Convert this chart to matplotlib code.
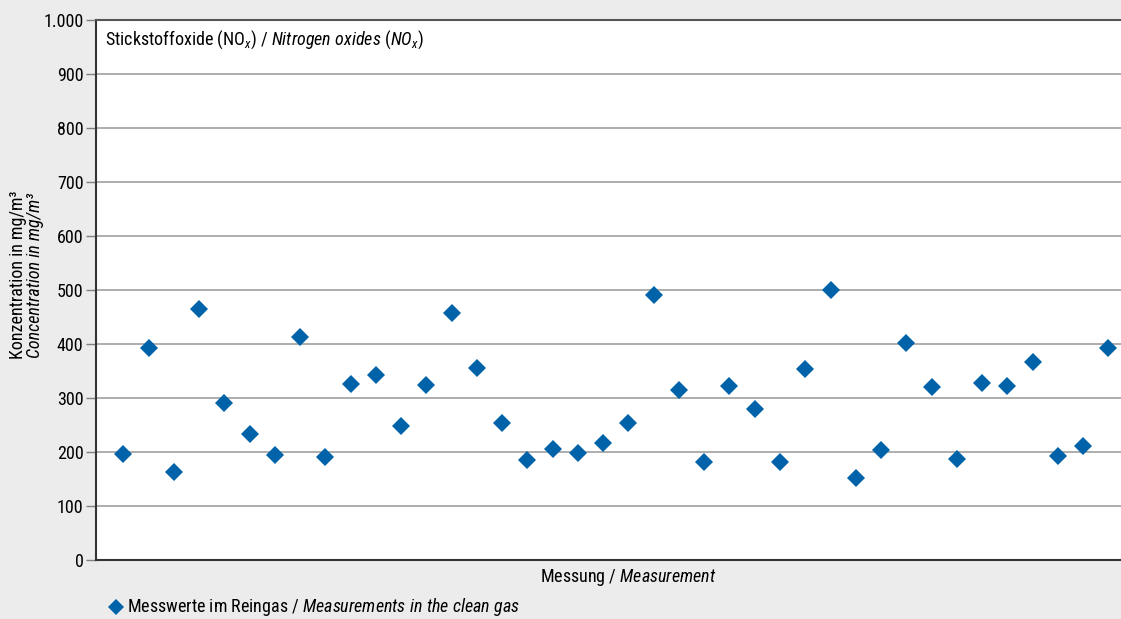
import matplotlib
matplotlib.use("Agg")
import matplotlib.pyplot as plt
from matplotlib import font_manager

names = {f.name for f in font_manager.fontManager.ttflist}
FONT = "Liberation Sans"
FS = 12.0
for cand in ["Liberation Sans Narrow", "Roboto Condensed", "Open Sans Condensed", "Arial Narrow"]:
    if cand in names:
        FONT = cand
        FS = 13.0
        break
plt.rcParams['font.family'] = [FONT, 'DejaVu Sans']
plt.rcParams['mathtext.fontset'] = 'custom'
plt.rcParams['mathtext.rm'] = FONT
plt.rcParams['mathtext.it'] = FONT + ':italic'

measurement = list(range(1, 41))
values = [196, 393, 163, 465, 291, 233, 194, 413, 191, 326,
          343, 248, 324, 457, 356, 254, 185, 206, 198, 217,
          254, 491, 315, 181, 322, 280, 181, 354, 500, 152,
          204, 402, 320, 187, 328, 322, 367, 193, 211, 393]
yticks = [0, 100, 200, 300, 400, 500, 600, 700, 800, 900, 1000]
ytick_labels = ["0", "100", "200", "300", "400", "500", "600", "700", "800", "900", "1.000"]

BG = "#ebeceb"
BLUE = "#0062a9"
W, H = 1121, 619
fig = plt.figure(figsize=(W / 100, H / 100), dpi=100, facecolor=BG)
ax = fig.add_axes([96 / W, 1 - 560 / H, (1121 - 96) / W, (560 - 20) / H])
ax.set_facecolor("white")

ax.plot(measurement, values, linestyle="none", marker="D", markersize=9,
        color=BLUE, markeredgewidth=0, zorder=3)

ax.set_xlim(-0.08, 40.5)
ax.set_ylim(0, 1000)
ax.set_yticks(yticks)
ax.set_yticklabels(ytick_labels)
ax.set_xticks([])
ax.grid(axis="y", color="#a0a0a0", linewidth=1.2)
ax.tick_params(axis="y", length=7, width=1, color="#808080", labelsize=FS, pad=2)
for s in ["left", "bottom", "top"]:
    ax.spines[s].set_color("#333333")
    ax.spines[s].set_linewidth(1.5)
ax.spines["top"].set_color("#555555")
ax.spines["right"].set_visible(False)

ax.text(0.009, 0.984, r"Stickstoffoxide (NO$_x$) / $\mathit{Nitrogen\ oxides\ (NO_x)}$",
        transform=ax.transAxes, ha="left", va="top", fontsize=FS)

fig.text(18 / W, 1 - 275 / H, "Konzentration in mg/m³", rotation=90,
         ha="center", va="center", fontsize=FS)
fig.text(35 / W, 1 - 275 / H, "Concentration in mg/m³", rotation=90,
         ha="center", va="center", fontsize=FS, style="italic")

fig.text(628 / W, 1 - 577 / H, r"Messung / $\mathit{Measurement}$",
         ha="center", va="center", fontsize=FS)

fig.lines.append(plt.Line2D([116 / W], [1 - 607 / H], transform=fig.transFigure,
                            marker="D", markersize=8, color=BLUE, linestyle="none",
                            markeredgewidth=0))
fig.text(127 / W, 1 - 607 / H,
         r"Messwerte im Reingas / $\mathit{Measurements\ in\ the\ clean\ gas}$",
         ha="left", va="center", fontsize=FS)

fig.savefig("out.png", dpi=100, facecolor=BG)
